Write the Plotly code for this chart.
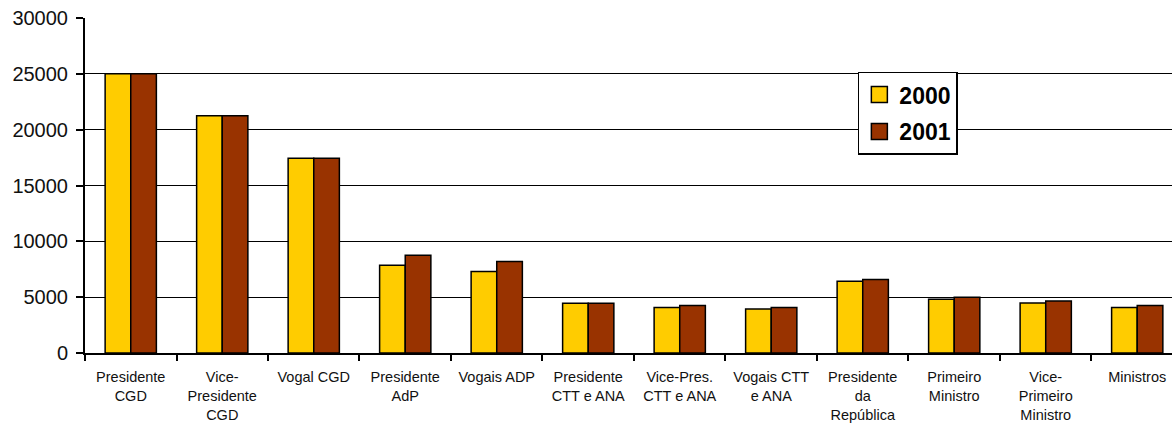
import plotly.graph_objects as go

categories = ["Presidente<br>CGD", "Vice-<br>Presidente<br>CGD", "Vogal CGD", "Presidente<br>AdP",
              "Vogais ADP", "Presidente<br>CTT e ANA", "Vice-Pres.<br>CTT e ANA", "Vogais CTT<br>e ANA",
              "Presidente<br>da<br>República", "Primeiro<br>Ministro", "Vice-<br>Primeiro<br>Ministro", "Ministros"]
values_2000 = [25000, 21250, 17450, 7850, 7300, 4450, 4080, 3930, 6430, 4820, 4470, 4080]
values_2001 = [25000, 21250, 17450, 8750, 8200, 4450, 4250, 4080, 6580, 5000, 4650, 4250]
y_ticks = [0, 5000, 10000, 15000, 20000, 25000, 30000]
y_ticktext = ["0", "5000", "10000", "15000", "20000", "25000", "30000"]
series_names = ["2000", "2001"]
colors = ["#FFCC00", "#993300"]

FONT = "Arial, 'Liberation Sans', sans-serif"

fig = go.Figure()
for name, vals, col in zip(series_names, [values_2000, values_2001], colors):
    fig.add_trace(go.Bar(name=name, x=categories, y=vals, showlegend=False,
                         marker=dict(color=col, line=dict(color="black", width=1.5))))
for name, col in zip(series_names, colors):
    fig.add_trace(go.Scatter(name=name, x=[None], y=[None], mode="markers", legendgroup=name,
                             marker=dict(symbol="square", size=16, color=col,
                                         line=dict(color="black", width=1.5))))

fig.update_layout(
    width=1172, height=426,
    margin=dict(l=85, r=0, t=18, b=73),
    plot_bgcolor="white", paper_bgcolor="white",
    barmode="group", bargap=0.44, bargroupgap=0,
    font=dict(family=FONT, color="black"),
    legend=dict(x=0.711, y=0.84, xanchor="left", yanchor="top",
                bordercolor="black", borderwidth=1.5, bgcolor="white",
                font=dict(size=23, family=FONT, color="black", weight="bold"),
                itemwidth=30, tracegroupgap=4, traceorder="grouped"),
    showlegend=True,
)
fig.update_xaxes(
    range=[-0.5, 11.38], tickson="boundaries", ticks="outside", ticklen=6,
    tickcolor="black", tickwidth=1.5, showline=True, linecolor="black", linewidth=2,
    tickfont=dict(size=14.5, family=FONT, color="#111"), tickangle=0, showgrid=False,
    ticklabelstandoff=10,
)
fig.update_yaxes(
    range=[0, 30000], tickvals=y_ticks, ticktext=y_ticktext, ticks="outside", ticklen=7,
    tickcolor="black", tickwidth=1.5, showline=True, linecolor="black", linewidth=2,
    showgrid=True, gridcolor="black", gridwidth=1.3, zeroline=False,
    tickfont=dict(size=20, family=FONT, color="#111"), ticklabelstandoff=4,
)
fig.write_html("out.html")
